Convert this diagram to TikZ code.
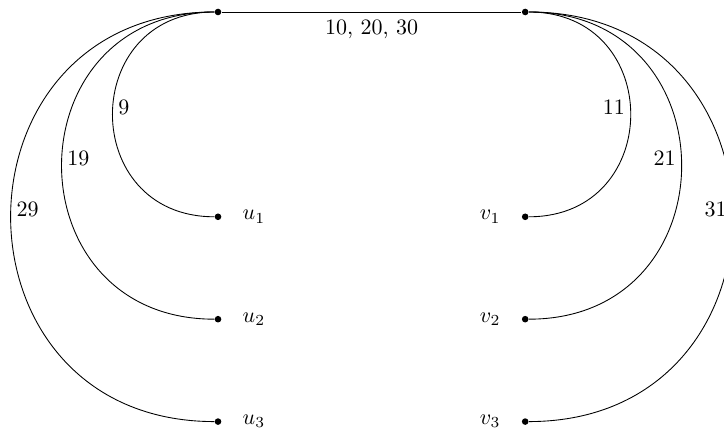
\documentclass[tikz,border=0pt]{standalone}
\usetikzlibrary{positioning}
\tikzset{
    punto/.style={circle, fill=black, inner sep=0pt, minimum size=3pt},
    pesoizq/.style={anchor=base west, inner sep=2.5pt},
    pesoder/.style={anchor=base east, inner sep=2.5pt},
    arco/.style={line width=0.4pt, looseness=1.7},
}

\begin{document}
\begin{tikzpicture}[x=0.818cm, y=0.818cm]
\useasboundingbox (-4.258,0.234) rectangle (9.883,-8.164);
% vertices de arriba
\node[punto] (a) at (0,0) {};
\node[punto] (b) at (6,0) {};
\draw (a) -- node[below] {10, 20, 30} (b);
% vertices de abajo
\foreach \i/\y in {1/-4, 2/-6, 3/-8} {
    \node[punto, label={[label distance=6pt]right:$u_\i$}] (u\i) at (0,\y) {};
    \node[punto, label={[label distance=6pt]left:$v_\i$}] (v\i) at (6,\y) {};
}
% arcos de la izquierda
\draw[arco] (a) to[out=180, in=180] node[pesoizq] {9} (u1);
\draw[arco] (a) to[out=180, in=180] node[pesoizq] {19} (u2);
\draw[arco] (a) to[out=180, in=180] node[pesoizq] {29} (u3);
% arcos de la derecha
\draw[arco] (b) to[out=0, in=0] node[pesoder] {11} (v1);
\draw[arco] (b) to[out=0, in=0] node[pesoder] {21} (v2);
\draw[arco] (b) to[out=0, in=0] node[pesoder] {31} (v3);
\end{tikzpicture}
\end{document}
